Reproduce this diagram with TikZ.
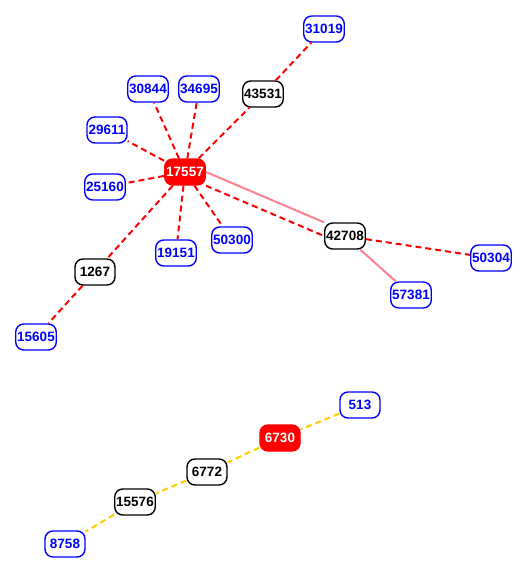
\documentclass[tikz,border=0pt]{standalone}
\usepackage{fontspec}
\setmainfont{Liberation Sans}
\definecolor{hubred}{RGB}{255,0,0}
\definecolor{leafblue}{RGB}{0,0,255}
\definecolor{linkpink}{RGB}{255,128,144}
\definecolor{linkgold}{RGB}{255,204,0}
\begin{document}
\begin{tikzpicture}[x=1pt,y=-1pt,
  box/.style={rounded corners=8pt,minimum width=40pt,minimum height=26pt,inner sep=1.5pt,line width=1.4pt,font=\fontsize{13.5}{15}\selectfont\bfseries},
  hub/.style={box,fill=hubred,draw=hubred,text=white},
  mid/.style={box,draw=black,fill=white,text=black},
  leaf/.style={box,draw=leafblue,fill=white,text=leafblue},
  redlink/.style={draw=hubred,line width=2pt,dash pattern=on 6pt off 4pt},
  pinklink/.style={draw=linkpink,line width=2pt},
  goldlink/.style={draw=linkgold,line width=2pt,dash pattern=on 6pt off 4pt}]
\useasboundingbox (0,0) rectangle (524,570);
\node[leaf] (n31019) at (324,29) {31019};
\node[leaf] (n30844) at (148,89) {30844};
\node[leaf] (n34695) at (199,89) {34695};
\node[mid] (n43531) at (263,94) {43531};
\node[leaf] (n29611) at (107,130) {29611};
\node[hub] (n17557) at (185,172) {17557};
\node[leaf] (n25160) at (105,187) {25160};
\node[leaf] (n50300) at (232,240) {50300};
\node[leaf] (n19151) at (176,253) {19151};
\node[mid] (n42708) at (345,236) {42708};
\node[leaf] (n50304) at (491,258) {50304};
\node[leaf] (n57381) at (411,295) {57381};
\node[mid] (n1267) at (95,272) {1267};
\node[leaf] (n15605) at (36,337) {15605};
\node[leaf] (n513) at (360,405) {513};
\node[hub] (n6730) at (280,438) {6730};
\node[mid] (n6772) at (207,472) {6772};
\node[mid] (n15576) at (135,502) {15576};
\node[leaf] (n8758) at (65,544) {8758};
\draw[redlink] (n17557) -- (n30844);
\draw[redlink] (n17557) -- (n34695);
\draw[redlink] (n17557) -- (n43531);
\draw[redlink] (n17557) -- (n29611);
\draw[redlink] (n17557) -- (n25160);
\draw[redlink] (n17557) -- (n50300);
\draw[redlink] (n17557) -- (n19151);
\draw[redlink] (n17557) -- (n1267);
\draw[redlink] (n17557.south east) -- (n42708.west);
\draw[pinklink] (n17557.east) -- (n42708.north west);
\draw[redlink] (n43531) -- (n31019);
\draw[redlink] (n42708) -- (n50304);
\draw[pinklink] (n42708) -- (n57381);
\draw[redlink] (n1267) -- (n15605);
\draw[goldlink] (n513) -- (n6730);
\draw[goldlink] (n6730) -- (n6772);
\draw[goldlink] (n6772) -- (n15576);
\draw[goldlink] (n15576) -- (n8758);
\end{tikzpicture}
\end{document}
